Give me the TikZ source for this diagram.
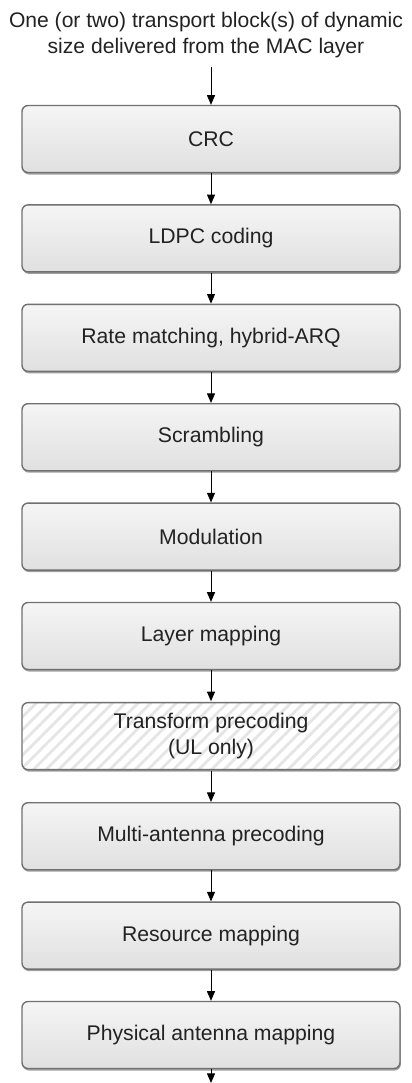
\documentclass[tikz,border=0pt]{standalone}
\usepackage{fontspec}
\setmainfont{Liberation Sans}
\definecolor{boxedge}{HTML}{707070}
\definecolor{boxtop}{HTML}{F5F5F5}
\definecolor{boxbottom}{HTML}{E0E0E0}
\definecolor{labelgray}{HTML}{222222}
\usetikzlibrary{arrows.meta,positioning,shadows,patterns.meta}

\begin{document}
\begin{tikzpicture}[
  x=1pt, y=1pt,
  basebox/.style={rectangle, draw=boxedge, line width=0.7pt,
    minimum width=189pt, minimum height=33.5pt, inner sep=0pt,
    align=center, rounded corners=3pt, text=labelgray,
    font=\fontsize{10.6}{13}\selectfont,
    drop shadow={shadow xshift=0.4pt, shadow yshift=-1pt, fill=gray!75, opacity=1}},
  chainbox/.style={basebox, top color=boxtop, bottom color=boxbottom},
  ulbox/.style={basebox, preaction={fill=white},
    pattern={Lines[angle=45,distance=4.5pt,line width=1.4pt]}, pattern color=gray!20},
  flow/.style={-{Triangle[length=4.8pt,width=4pt]}, line width=0.5pt},
  node distance=15.5pt
]
  \useasboundingbox (0,0) rectangle (206,-541.5);

  \node[align=center, text=labelgray, font=\fontsize{10.55}{13}\selectfont] (title) at (103,-17.5)
    {One (or two) transport block(s) of dynamic\\size delivered from the MAC layer};
  \coordinate (feed) at (105.5,-33.5);

  \node[chainbox] (crc) at (105.5,-69.5) {CRC};
  \node[chainbox, below=of crc] (ldpc) {LDPC coding};
  \node[chainbox, below=of ldpc] (ratematch) {Rate matching, hybrid-ARQ};
  \node[chainbox, below=of ratematch] (scramble) {Scrambling};
  \node[chainbox, below=of scramble] (modul) {Modulation};
  \node[chainbox, below=of modul] (layermap) {Layer mapping};
  \node[ulbox, below=of layermap] (transprec) {Transform precoding\\(UL only)};
  \node[chainbox, below=of transprec] (mimoprec) {Multi-antenna precoding};
  \node[chainbox, below=of mimoprec] (resmap) {Resource mapping};
  \node[chainbox, below=of resmap] (antmap) {Physical antenna mapping};

  \coordinate (out) at (105.5,-541.5);

  \foreach \a/\b in {feed/crc, crc/ldpc, ldpc/ratematch, ratematch/scramble,
      scramble/modul, modul/layermap, layermap/transprec, transprec/mimoprec,
      mimoprec/resmap, resmap/antmap, antmap/out}
    \draw[flow] (\a) -- (\b);
\end{tikzpicture}
\end{document}
